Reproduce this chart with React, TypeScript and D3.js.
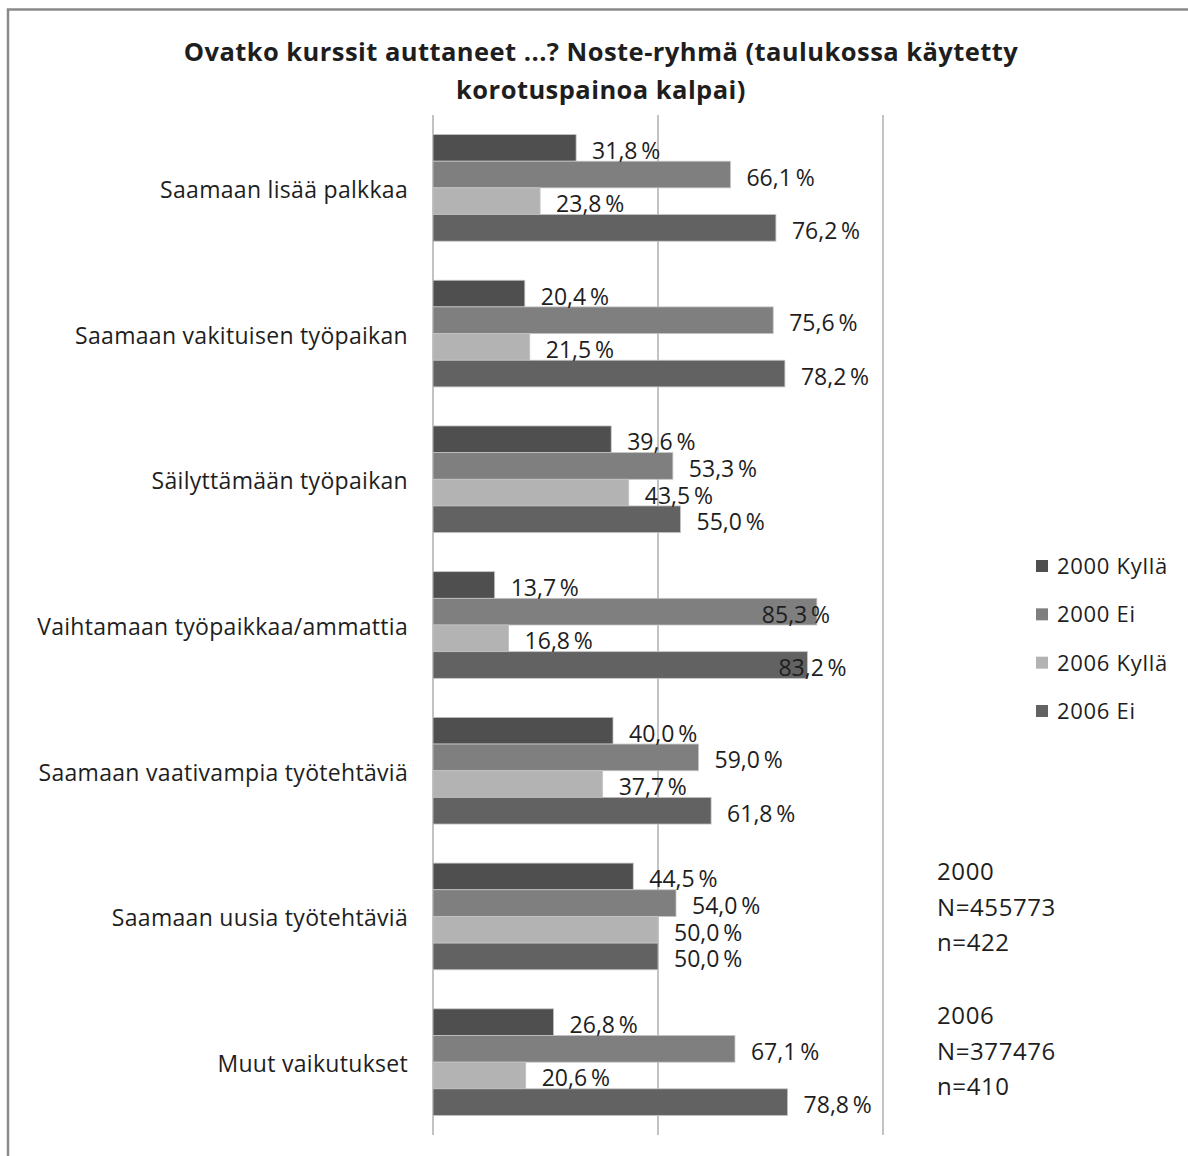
import React from "react";
import * as d3 from "d3";

// Survey categories (top to bottom) and the four answer series
const categories = [
  "Saamaan lisää palkkaa",
  "Saamaan vakituisen työpaikan",
  "Säilyttämään työpaikan",
  "Vaihtamaan työpaikkaa/ammattia",
  "Saamaan vaativampia työtehtäviä",
  "Saamaan uusia työtehtäviä",
  "Muut vaikutukset",
];

const seriesNames = ["2000 Kyllä", "2000 Ei", "2006 Kyllä", "2006 Ei"];

const kylla2000 = [31.8, 20.4, 39.6, 13.7, 40.0, 44.5, 26.8];
const ei2000 = [66.1, 75.6, 53.3, 85.3, 59.0, 54.0, 67.1];
const kylla2006 = [23.8, 21.5, 43.5, 16.8, 37.7, 50.0, 20.6];
const ei2006 = [76.2, 78.2, 55.0, 83.2, 61.8, 50.0, 78.8];

const gridTicks = [0, 50, 100];

const sampleNotes = [
  ["2000", "N=455773", "n=422"],
  ["2006", "N=377476", "n=410"],
];

const seriesValues = [kylla2000, ei2000, kylla2006, ei2006];
const seriesColors = ["#4f4f4f", "#7f7f7f", "#b3b3b3", "#626262"];

// labels that would run past the plot edge are pulled back over their bar
const labelNudge: Record<string, number> = {
  "3|1": -71,
  "3|3": -45,
};

const W = 1188;
const H = 1156;
const FONT = "'Open Sans', Lato, sans-serif";
const TEXT = "#1e1e1e";

const fmt = (v: number) => d3.format(".1f")(v).replace(".", ",") + "\u2009%";

export default function App() {
  const x = d3.scaleLinear().domain([0, 100]).range([433, 883]);
  const y = d3
    .scaleBand<string>()
    .domain(categories)
    .range([115, 1135])
    .paddingInner(0.268)
    .paddingOuter(0.134);
  const ySub = d3
    .scaleBand<string>()
    .domain(seriesNames)
    .range([0, y.bandwidth()]);

  const legendY = d3.scalePoint<string>().domain(seriesNames).range([566, 711]);

  return (
    <svg
      width={W}
      height={H}
      viewBox={`0 0 ${W} ${H}`}
      style={{ position: "absolute", left: 0, top: 0, background: "#fff" }}
      fontFamily={FONT}
    >
      <rect x={0} y={0} width={W} height={H} fill="#fff" />
      {/* chart frame */}
      <path d={`M8,${H} V9.5 H${W}`} fill="none" stroke="#8a8a8a" strokeWidth={2.5} />

      {/* title */}
      <g fontSize={25.5} fontWeight={700} fill={TEXT} letterSpacing={0.45} textAnchor="middle">
        <text x={601} y={61}>
          Ovatko kurssit auttaneet ...? Noste-ryhmä (taulukossa käytetty
        </text>
        <text x={601} y={99}>
          korotuspainoa kalpai)
        </text>
      </g>

      {/* vertical gridlines */}
      {gridTicks.map((t) => (
        <line
          key={t}
          x1={x(t)}
          x2={x(t)}
          y1={115}
          y2={1135}
          stroke="#868686"
          strokeWidth={1}
        />
      ))}

      {/* bars */}
      {categories.map((c, ci) => (
        <g key={c} transform={`translate(0,${y(c)})`}>
          {seriesNames.map((s, si) => (
            <rect
              key={s}
              x={x(0)}
              y={ySub(s)}
              width={x(seriesValues[si][ci]) - x(0)}
              height={ySub.bandwidth()}
              fill={seriesColors[si]}
              stroke="#c4c4c4"
              strokeWidth={0.8}
            />
          ))}
        </g>
      ))}

      {/* value labels */}
      {categories.map((c, ci) =>
        seriesNames.map((s, si) => {
          const v = seriesValues[si][ci];
          const cy = (y(c) ?? 0) + (ySub(s) ?? 0) + ySub.bandwidth() / 2;
          const nudge = labelNudge[`${ci}|${si}`] ?? 0;
          return (
            <text
              key={`${c}-${s}`}
              x={x(v) + 16 + nudge}
              y={cy + 11}
              fontSize={23}
              fill={TEXT}
            >
              {fmt(v)}
            </text>
          );
        })
      )}

      {/* category labels */}
      {categories.map((c) => (
        <text
          key={c}
          x={408}
          y={(y(c) ?? 0) + y.bandwidth() / 2 + 10}
          textAnchor="end"
          fontSize={23}
          letterSpacing={0.3}
          fill={TEXT}
        >
          {c}
        </text>
      ))}

      {/* legend */}
      {seriesNames.map((s, si) => (
        <g key={s} transform={`translate(1036,${legendY(s)})`}>
          <rect x={0} y={-6} width={12} height={12} fill={seriesColors[si]} />
          <text x={21} y={8} fontSize={22} letterSpacing={0.7} fill={TEXT}>
            {s}
          </text>
        </g>
      ))}

      {/* sample sizes */}
      {sampleNotes.map((lines, i) => (
        <g key={i} transform={`translate(937,${880 + i * 144})`}>
          {lines.map((l, li) => (
            <text key={l} x={0} y={li * 35.5} fontSize={24} letterSpacing={0.6} fill={TEXT}>
              {l}
            </text>
          ))}
        </g>
      ))}
    </svg>
  );
}
